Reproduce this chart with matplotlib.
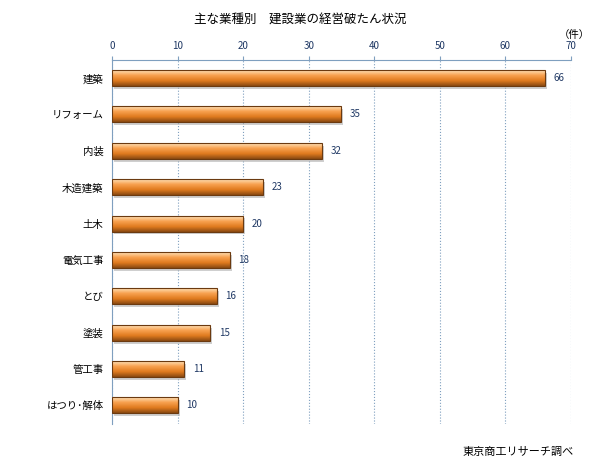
import matplotlib
matplotlib.use("Agg")
import matplotlib.pyplot as plt
import numpy as np
from matplotlib.colors import LinearSegmentedColormap

plt.rcParams["font.family"] = "Noto Sans CJK JP"

categories = ["建築", "リフォーム", "内装", "木造建築", "土木", "電気工事", "とび", "塗装", "管工事", "はつり･解体"]
values = [66, 35, 32, 23, 20, 18, 16, 15, 11, 10]
xticks = [0, 10, 20, 30, 40, 50, 60, 70]

fig = plt.figure(figsize=(6.01, 4.68), dpi=100)
ax = fig.add_axes([0.1864, 0.095, 0.7636, 0.777])
n = len(categories)
ax.set_xlim(0, 70)
ax.set_ylim(n - 0.5, -0.5)

grad = np.linspace(0, 1, 64).reshape(-1, 1)
cmap = LinearSegmentedColormap.from_list("o", ["#ffe2b8", "#f7a04e", "#e07b1f", "#8a4a12"])
h = 0.44
for i, v in enumerate(values):
    ax.add_patch(plt.Rectangle((0.3, i - h / 2 + 0.08), v, h, color="#b0b0b0", alpha=0.6, zorder=2, lw=0))
    im = ax.imshow(grad, cmap=cmap, aspect="auto", extent=[0, v, i + h / 2, i - h / 2], zorder=3)
    r = plt.Rectangle((0, i - h / 2), v, h, fill=False, ec="#6b3a10", lw=0.8, zorder=4)
    ax.add_patch(r)
    im.set_clip_path(r)
    ax.text(v + 1.3, i, str(v), va="center", ha="left", fontsize=7, color="#1f3864", zorder=5)

ax.set_yticks(range(n))
ax.set_yticklabels(categories, fontsize=7.5)
ax.tick_params(axis="y", length=0, pad=6)
ax.xaxis.tick_top()
ax.set_xticks(xticks)
ax.set_xticklabels([str(t) for t in xticks], fontsize=7, color="#1f3864")
ax.tick_params(axis="x", length=3, color="#7f9fbf")
ax.grid(axis="x", linestyle=":", color="#7f9fbf", lw=0.8)
ax.set_axisbelow(True)
for s in ["right", "bottom"]:
    ax.spines[s].set_visible(False)
ax.spines["top"].set_color("#7f9fbf")
ax.spines["left"].set_color("#7f9fbf")

fig.text(0.50, 0.958, "主な業種別　建設業の経営破たん状況", ha="center", va="center", fontsize=9)
fig.text(0.955, 0.925, "（件）", ha="center", va="center", fontsize=7.5)
fig.text(0.955, 0.035, "東京商工リサーチ調べ", ha="right", va="center", fontsize=8)
fig.savefig("out.png", dpi=100)
